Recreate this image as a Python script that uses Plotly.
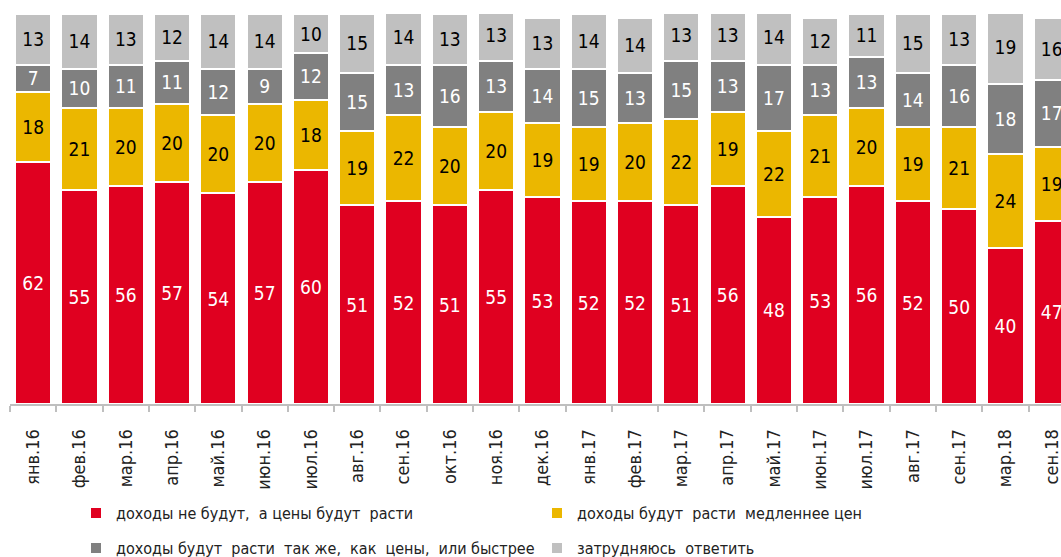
import plotly.graph_objects as go

categories = ["янв.16", "фев.16", "мар.16", "апр.16", "май.16", "июн.16", "июл.16", "авг.16",
              "сен.16", "окт.16", "ноя.16", "дек.16", "янв.17", "фев.17", "мар.17", "апр.17",
              "май.17", "июн.17", "июл.17", "авг.17", "сен.17", "мар.18", "сен.18"]
s_red = [62, 55, 56, 57, 54, 57, 60, 51, 52, 51, 55, 53, 52, 52, 51, 56, 48, 53, 56, 52, 50, 40, 47]
s_yellow = [18, 21, 20, 20, 20, 20, 18, 19, 22, 20, 20, 19, 19, 20, 22, 19, 22, 21, 20, 19, 21, 24, 19]
s_dgray = [7, 10, 11, 11, 12, 9, 12, 15, 13, 16, 13, 14, 15, 13, 15, 13, 17, 13, 13, 14, 16, 18, 17]
s_lgray = [13, 14, 13, 12, 14, 14, 10, 15, 14, 13, 13, 13, 14, 14, 13, 13, 14, 12, 11, 15, 13, 19, 16]

names = ["доходы не будут,  а цены будут  расти",
         "доходы будут  расти  медленнее цен",
         "доходы будут  расти  так же,  как  цены,  или быстрее",
         "затрудняюсь  ответить"]

FONT = "Liberation Sans Narrow, DejaVu Sans Condensed, Arial Narrow, sans-serif"

series = [
    (s_red, "#E00020", "white", "legend"),
    (s_yellow, "#EBB700", "black", "legend2"),
    (s_dgray, "#808080", "white", "legend3"),
    (s_lgray, "#C0C0C0", "black", "legend4"),
]

fig = go.Figure()
for (vals, color, tcolor, lg), name in zip(series, names):
    fig.add_trace(go.Bar(
        x=categories, y=vals, name=name,
        marker=dict(color=color, line=dict(color="white", width=2)),
        text=[str(v) for v in vals], textposition="inside", insidetextanchor="middle",
        textangle=0, constraintext="none",
        textfont=dict(color=tcolor, size=19, family=FONT),
        legend=lg,
    ))

W = 1061.0
H = 557.0

legend_common = dict(orientation="h", xanchor="left", yanchor="middle",
                     xref="container", yref="container",
                     font=dict(size=16, family=FONT, color="#222"),
                     bgcolor="rgba(0,0,0,0)")

fig.update_layout(
    width=int(W), height=int(H),
    margin=dict(l=10, r=0, t=14, b=153),
    barmode="stack", bargap=0.22,
    plot_bgcolor="white", paper_bgcolor="white",
    font=dict(family=FONT),
    legend=dict(x=76 / W, y=1 - 513 / H, **legend_common),
    legend2=dict(x=537 / W, y=1 - 513 / H, **legend_common),
    legend3=dict(x=76 / W, y=1 - 548 / H, **legend_common),
    legend4=dict(x=537 / W, y=1 - 548 / H, **legend_common),
    xaxis=dict(range=[-0.5, 22.2], showline=True, linecolor="#BFBFBF", linewidth=2,
               ticks="outside", tickson="boundaries", ticklen=6, tickcolor="#BFBFBF", tickwidth=2,
               tickangle=-90, tickfont=dict(size=18, family=FONT, color="#222"),
               ticklabelstandoff=16, ticklabeloverflow="allow", automargin=False,
               showgrid=False, fixedrange=True),
    yaxis=dict(range=[0, 100], visible=False, showgrid=False, fixedrange=True, automargin=False),
    showlegend=True,
)

fig.write_html("out.html",
               config={"displayModeBar": False},
               post_script="document.body.style.margin='0';document.body.style.overflow='hidden';")
